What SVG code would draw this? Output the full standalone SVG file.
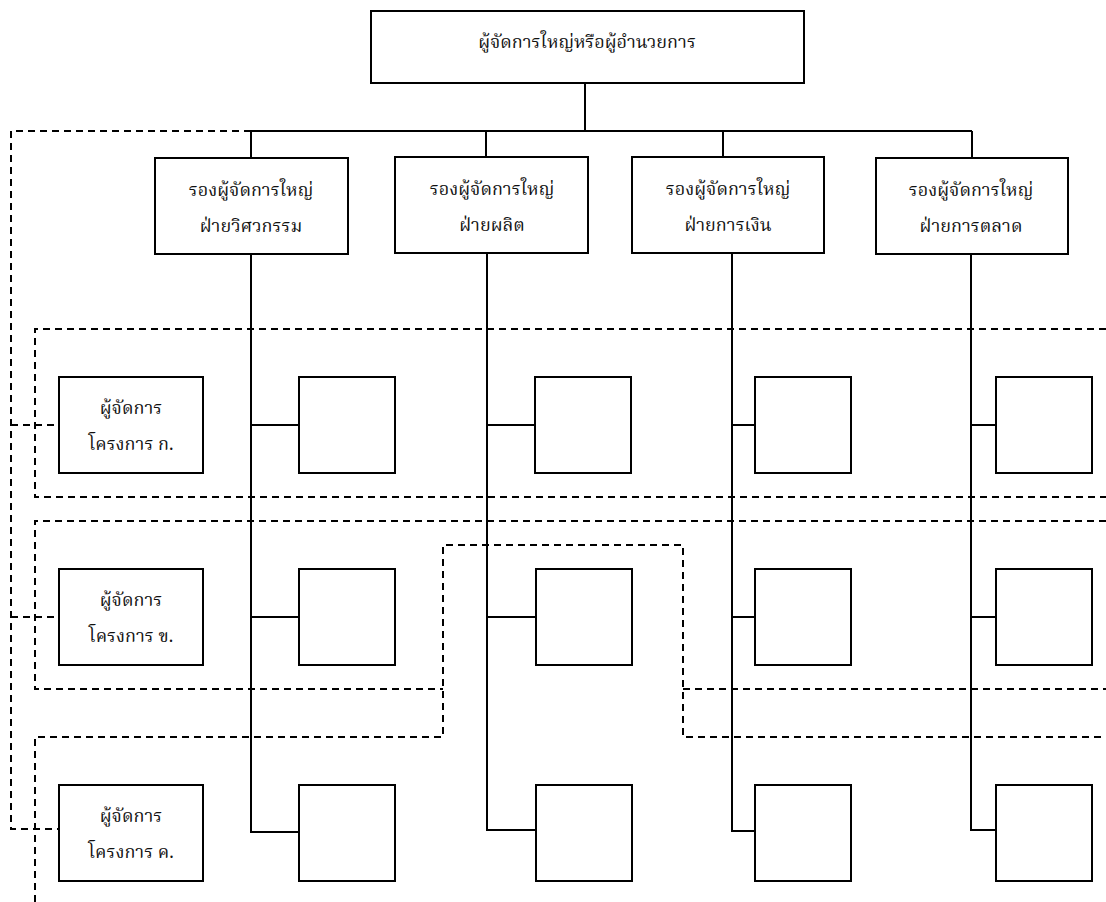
<svg xmlns="http://www.w3.org/2000/svg" width="1106" height="902" viewBox="0 0 1106 902">
<style>
.box{fill:#fff;stroke:#000;stroke-width:2}
.conn{fill:none;stroke:#000;stroke-width:2}
.dash{fill:none;stroke:#000;stroke-width:2;stroke-dasharray:7 5}
text{font-family:"Norasi","Kinnari","TH Sarabun New","Noto Serif Thai","Noto Sans Thai","Liberation Serif",serif;font-size:18px;text-anchor:middle;fill:#111}
</style>
<rect width="1106" height="902" fill="#fff"/>
<g id="connectors">
<path class="dash" d="M251,131 H11 V829 H59 M11,425 H59 M11,617 H59"/>
<path class="dash" d="M1106,329 H35 V497 H1106"/>
<path class="dash" d="M1106,521 H35 V689 H443 M683,689 H1106"/>
<path class="dash" d="M35,902 V737 H443 V545 H683 V737 H1106"/>
<path class="conn" d="M585,83 V131 M251,131 H972 M251,131 V158 M486,131 V157 M723,131 V157 M972,131 V158"/>
<path class="conn" d="M251,254 V832 H299 M251,425 H299 M251,617 H299"/>
<path class="conn" d="M487,253 V830 H536 M487,425 H535 M487,617 H536"/>
<path class="conn" d="M732,253 V831 H755 M732,425 H755 M732,617 H755"/>
<path class="conn" d="M971,254 V830 H996 M971,425 H996 M971,617 H996"/>
</g>
<g id="gm"><rect class="box" x="371" y="11" width="433" height="72"/><text x="587" y="48">ผู้จัดการใหญ่หรือผู้อำนวยการ</text></g>
<g id="vp-eng"><rect class="box" x="155" y="158" width="193" height="96"/><text x="251" y="196">รองผู้จัดการใหญ่</text><text x="251" y="232">ฝ่ายวิศวกรรม</text></g>
<g id="vp-prod"><rect class="box" x="395" y="157" width="193" height="96"/><text x="492" y="195">รองผู้จัดการใหญ่</text><text x="492" y="231">ฝ่ายผลิต</text></g>
<g id="vp-fin"><rect class="box" x="632" y="157" width="192" height="96"/><text x="728" y="195">รองผู้จัดการใหญ่</text><text x="728" y="231">ฝ่ายการเงิน</text></g>
<g id="vp-mkt"><rect class="box" x="876" y="158" width="192" height="96"/><text x="971" y="196">รองผู้จัดการใหญ่</text><text x="971" y="232">ฝ่ายการตลาด</text></g>
<g id="pm-a"><rect class="box" x="59" y="377" width="144" height="96"/><text x="131" y="414">ผู้จัดการ</text><text x="131" y="450">โครงการ ก.</text></g>
<g id="pm-b"><rect class="box" x="59" y="569" width="144" height="96"/><text x="131" y="606">ผู้จัดการ</text><text x="131" y="642">โครงการ ข.</text></g>
<g id="pm-c"><rect class="box" x="59" y="785" width="144" height="96"/><text x="131" y="822">ผู้จัดการ</text><text x="131" y="858">โครงการ ค.</text></g>
<g id="a1"><rect class="box" x="299" y="377" width="96" height="96"/></g>
<g id="a2"><rect class="box" x="535" y="377" width="96" height="96"/></g>
<g id="a3"><rect class="box" x="755" y="377" width="96" height="96"/></g>
<g id="a4"><rect class="box" x="996" y="377" width="96" height="96"/></g>
<g id="b1"><rect class="box" x="299" y="569" width="96" height="96"/></g>
<g id="b2"><rect class="box" x="536" y="569" width="96" height="96"/></g>
<g id="b3"><rect class="box" x="755" y="569" width="96" height="96"/></g>
<g id="b4"><rect class="box" x="996" y="569" width="96" height="96"/></g>
<g id="c1"><rect class="box" x="299" y="785" width="96" height="96"/></g>
<g id="c2"><rect class="box" x="536" y="785" width="96" height="96"/></g>
<g id="c3"><rect class="box" x="755" y="785" width="96" height="96"/></g>
<g id="c4"><rect class="box" x="996" y="785" width="96" height="96"/></g>
</svg>
